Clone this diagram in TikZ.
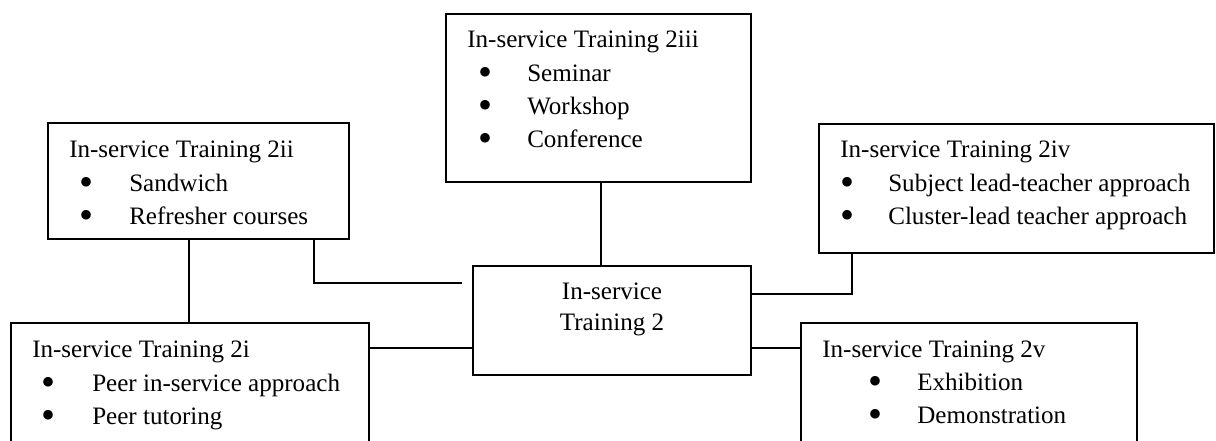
\documentclass[tikz,border=0pt]{standalone}
\usepackage{fontspec}
\setmainfont{Liberation Serif}
\usetikzlibrary{fit}
\begin{document}
\begin{tikzpicture}[x=0.75pt,y=-0.75pt,
  box/.style={draw, line width=1.3pt, inner sep=0pt},
  txt/.style={anchor=base west, inner sep=0pt, font=\fontsize{18.8pt}{22pt}\selectfont},
  bul/.style={anchor=base, inner sep=0pt, yshift=-3pt, text height=12pt, text depth=0pt, font=\fontsize{30pt}{32pt}\selectfont},
  ctxt/.style={anchor=base, inner sep=0pt, font=\fontsize{18.8pt}{22pt}\selectfont},
  conn/.style={line width=1.3pt}]
\useasboundingbox (0,0) rectangle (1216,441);
\clip (0,0) rectangle (1216,441);

% boxes
\node[box, fit={(48,123) (349,239)}] (b2ii) {};
\node[box, fit={(11,323) (369,470)}] (b2i) {};
\node[box, fit={(446,14) (751,182)}] (b2iii) {};
\node[box, fit={(819,124) (1214,253)}] (b2iv) {};
\node[box, fit={(473,266) (751,375)}] (b2) {};
\node[box, fit={(801,323) (1137,470)}] (b2v) {};

% texts 2iii
\node[txt] (t3) at (467,48) {In-service Training 2iii};
\node[bul] (t3b1) at (485,82) {\textbullet};
\node[bul] (t3b2) at (485,115) {\textbullet};
\node[bul] (t3b3) at (485,148) {\textbullet};
\node[txt] (t3i1) at (527,82) {Seminar};
\node[txt] (t3i2) at (527,115) {Workshop};
\node[txt] (t3i3) at (527,148) {Conference};

% texts 2ii
\node[txt] (t2) at (69,158) {In-service Training 2ii};
\node[bul] (t2b1) at (87,192) {\textbullet};
\node[bul] (t2b2) at (87,225) {\textbullet};
\node[txt] (t2i1) at (129,192) {Sandwich};
\node[txt] (t2i2) at (129,225) {Refresher courses};

% texts 2iv
\node[txt] (t4) at (840,158) {In-service Training 2iv};
\node[bul] (t4b1) at (847,192) {\textbullet};
\node[bul] (t4b2) at (847,225) {\textbullet};
\node[txt] (t4i1) at (888,192) {Subject lead-teacher approach};
\node[txt] (t4i2) at (888,225) {Cluster-lead teacher approach};

% texts 2i
\node[txt] (t1) at (32,357) {In-service Training 2i};
\node[bul] (t1b1) at (49,391) {\textbullet};
\node[bul] (t1b2) at (49,424) {\textbullet};
\node[txt] (t1i1) at (92,391) {Peer in-service approach};
\node[txt] (t1i2) at (92,424) {Peer tutoring};

% texts 2v
\node[txt] (t5) at (822,357) {In-service Training 2v};
\node[bul] (t5b1) at (875,390) {\textbullet};
\node[bul] (t5b2) at (875,423) {\textbullet};
\node[txt] (t5i1) at (917,390) {Exhibition};
\node[txt] (t5i2) at (917,423) {Demonstration};

% central text
\node[ctxt] (tc1) at (612,300) {In-service};
\node[ctxt] (tc2) at (612,330) {Training 2};

% connector helpers
\coordinate (k1) at (189,0);
\coordinate (k2) at (314,283);
\coordinate (k3) at (601,0);
\coordinate (k4) at (0,348);
\coordinate (k6) at (852,294);

% connectors
\draw[conn] (b2ii.south -| k1) -- (b2i.north -| k1);
\draw[conn] (b2ii.south -| k2) -- (k2) -- ([xshift=-7.5pt]b2.west |- k2);
\draw[conn] (b2iii.south -| k3) -- (b2.north -| k3);
\draw[conn] (b2i.east |- k4) -- (b2.west |- k4);
\draw[conn] (b2.east |- k4) -- (b2v.west |- k4);
\draw[conn] (b2.east |- k6) -- (k6) -- (b2iv.south -| k6);
\end{tikzpicture}
\end{document}
